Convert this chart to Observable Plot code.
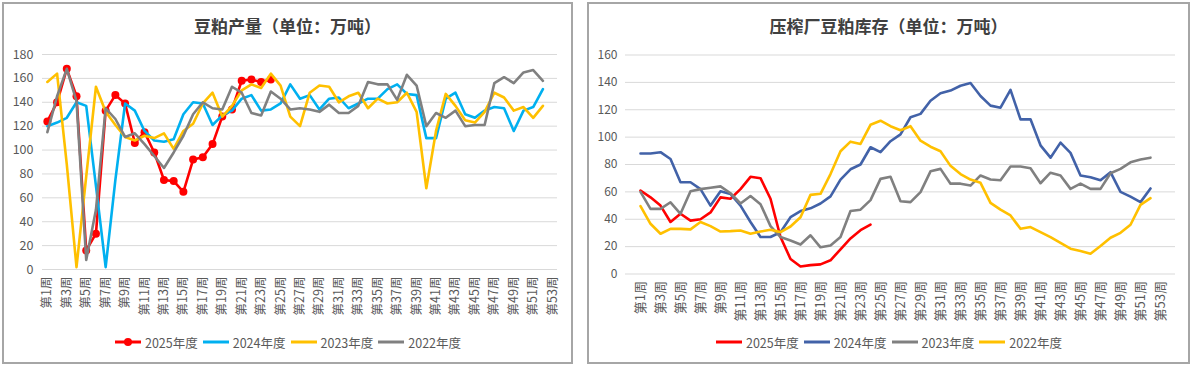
<!DOCTYPE html>
<html><head><meta charset="utf-8">
<script src="https://cdn.jsdelivr.net/npm/d3@7"></script>
<script src="https://cdn.jsdelivr.net/npm/@observablehq/plot@0.6"></script>
<style>
body{margin:0;background:#fff;font-family:"Noto Sans CJK SC","Noto Sans",sans-serif;}
#root{position:relative;width:1193px;height:366px;overflow:hidden;background:#fff;}
.panel{position:absolute;border:2px solid #a6a6a6;box-sizing:border-box;}
.title{position:absolute;font-weight:bold;font-size:17px;color:#404040;text-align:center;line-height:20px;}
.legend{position:absolute;display:flex;justify-content:center;align-items:center;font-size:12.5px;color:#595959;height:16px;}
.legend .item{display:flex;align-items:center;margin:0 2px;}
.legend svg{margin-right:3px;}
.plot{position:absolute;top:0;}
</style></head><body><div id="root"></div>
<script>
// ---------- data ----------
const weeks = d3.range(1, 54);
const weekTicks = weeks.filter(w => w % 2 === 1);
const prodTicks = [0, 20, 40, 60, 80, 100, 120, 140, 160, 180];
const stockTicks = [0, 20, 40, 60, 80, 100, 120, 140, 160];

const prodTitle = "豆粕产量（单位：万吨）";
const stockTitle = "压榨厂豆粕库存（单位：万吨）";
const prodSeriesNames = ["2025年度", "2024年度", "2023年度", "2022年度"];
const stockSeriesNames = ["2025年度", "2024年度", "2023年度", "2022年度"];

// 豆粕产量
const prod2025 = [124, 140, 168, 145, 16, 30, 133, 146, 139, 106, 115, 98, 75, 74, 65, 92, 94, 105, 128, 134, 158, 159, 157, 159];
const prod2024 = [120, 123, 127, 140, 137, 70, 2, 75, 139, 133, 116, 108, 107, 109, 130, 140, 139, 121, 129, 133, 143, 146, 133, 134, 139, 155,
  143, 146, 134, 143, 144, 135, 139, 143, 143, 151, 155, 147, 146, 110, 110, 143, 148, 130, 127, 133, 136, 135, 116, 133, 136, 151];
const prod2023 = [157, 164, 88, 2, 78, 153, 132, 121, 111, 108, 112, 110, 114, 101, 116, 122, 139, 148, 128, 137, 150, 155, 152, 164, 154, 128,
  120, 148, 154, 153, 140, 145, 148, 135, 143, 139, 140, 148, 132, 68, 116, 147, 137, 125, 123, 132, 148, 144, 133, 136, 127, 137];
const prod2022 = [115, 145, 168, 141, 8, 50, 135, 126, 111, 114, 105, 95, 85, 98, 112, 130, 140, 135, 134, 153, 148, 131, 129, 149, 143, 134,
  135, 134, 132, 138, 131, 131, 137, 157, 155, 155, 142, 163, 154, 120, 131, 127, 133, 120, 121, 121, 156, 161, 156, 165, 167, 158];

// 压榨厂豆粕库存
const stock2025 = [61, 56, 50, 38, 44, 39, 40, 45, 56, 55, 62, 71, 70, 55, 27, 11, 5.5, 6.5, 7, 10, 18, 26, 32, 36];
const stock2024 = [88, 88, 89, 84, 67, 67, 62, 50, 60.5, 58.5, 50, 38, 27, 27, 30.5, 41.5, 46, 48, 51.5, 56.7, 69, 76.5, 80, 92.6, 89, 97,
  102, 114.5, 117, 126.6, 132, 134, 137.5, 139.5, 130, 123, 121.5, 134.5, 113, 113, 94, 85, 96, 88.5, 72, 70.7, 68.5, 74.4, 60, 56.5, 52.5, 62.5];
const stock2023 = [60, 47.6, 47.6, 52.4, 44, 60.5, 62, 63, 64, 59, 51.5, 57, 51, 35, 27, 24.5, 21.5, 28.3, 19.5, 20.8, 27, 46, 47, 54, 69.5, 71,
  53.2, 52.5, 59.8, 75, 76.8, 66, 66, 64.6, 72, 69, 68.5, 78.5, 78.5, 77.3, 66.3, 74, 72, 62.2, 66, 62.2, 62.2, 73.6, 76.8, 81.6, 83.6, 85];
const stock2022 = [49.6, 36.7, 29.4, 33, 33, 32.6, 38, 35, 31, 31.3, 31.8, 29.4, 31, 32.3, 30.6, 34.7, 41.5, 57.8, 58.6, 73, 89.7, 96.7, 95, 109, 112, 108,
  105, 108, 97.4, 93, 89.7, 79, 73, 69, 66.6, 52, 47, 42.8, 33, 34.3, 30.6, 27, 22.8, 18.5, 16.8, 14.8, 20.4, 26.5, 30.1, 36, 50.5, 55.4];

const prodColors = ["#ff0000", "#00b0f0", "#ffc000", "#808080"];
const stockColors = ["#ff0000", "#4262a8", "#808080", "#ffc000"];

// ---------- layout ----------
const root = document.getElementById("root");
function add(tag, cls, style, text) {
  const el = document.createElement(tag);
  if (cls) el.className = cls;
  Object.assign(el.style, style);
  if (text) el.textContent = text;
  root.appendChild(el);
  return el;
}
add("div", "panel", {left: "2px", top: "2px", width: "571px", height: "362px"});
add("div", "panel", {left: "587px", top: "2px", width: "603px", height: "362px"});
add("div", "title", {left: "2px", width: "571px", top: "16px"}, prodTitle);
add("div", "title", {left: "587px", width: "603px", top: "16px"}, stockTitle);

const font = '"Noto Sans CJK SC","Noto Sans",sans-serif';

function chart(seriesList, colors, yTicks, yMax, opts, withDots) {
  const marks = [
    Plot.gridY(yTicks, {stroke: "#d9d9d9", strokeOpacity: 1, strokeWidth: 1}),
    Plot.axisY(yTicks, {tickSize: 0, tickPadding: opts.yPad, label: null, fill: "#595959"}),
    Plot.axisX(weekTicks, {tickSize: 0, tickPadding: 7, tickRotate: -90, label: null, fill: "#595959",
      tickFormat: d => `第${d}周`})
  ];
  seriesList.forEach((vals, k) => {
    marks.push(Plot.line(vals, {x: (d, i) => weeks[i], y: d => d, stroke: colors[k], strokeWidth: 2.6,
      strokeLinejoin: "round", strokeLinecap: "round"}));
    if (withDots && k === 0) {
      marks.push(Plot.dot(vals, {x: (d, i) => weeks[i], y: d => d, r: 4, fill: colors[k], stroke: "none"}));
    }
  });
  const svg = Plot.plot({
    width: opts.width, height: 320,
    marginLeft: opts.ml, marginRight: opts.mr, marginTop: opts.mt, marginBottom: 320 - opts.zeroY,
    x: {type: "point", domain: weeks, padding: 0.5},
    y: {domain: [0, yMax]},
    style: {fontFamily: font, color: "#595959", background: "transparent", overflow: "visible"},
    marks
  });
  svg.querySelectorAll('g[aria-label="y-axis tick label"]').forEach(g => g.style.fontSize = opts.yFont + "px");
  svg.querySelectorAll('g[aria-label="x-axis tick label"]').forEach(g => g.style.fontSize = opts.xFont + "px");
  return svg;
}

// draw order: first series at the bottom
const left = chart([prod2025, prod2024, prod2023, prod2022], prodColors, prodTicks, 180,
  {width: 580, ml: 42, mr: 23, mt: 54, zeroY: 269, yPad: 9, yFont: 12.5, xFont: 12.5}, true);
left.classList.add("plot"); left.style.left = "0px";
root.appendChild(left);

const right = chart([stock2025, stock2024, stock2023, stock2022], stockColors, stockTicks, 160,
  {width: 600, ml: 35, mr: 15, mt: 54.5, zeroY: 273.5, yPad: 8, yFont: 12, xFont: 13}, false);
right.classList.add("plot"); right.style.left = "590px";
root.appendChild(right);

function legend(names, colors, leftPx, widthPx, withDot) {
  const lg = add("div", "legend", {left: leftPx + "px", width: widthPx + "px", top: "334px"});
  names.forEach((n, k) => {
    const it = document.createElement("div");
    it.className = "item";
    const ns = "http://www.w3.org/2000/svg";
    const s = document.createElementNS(ns, "svg");
    s.setAttribute("width", 28); s.setAttribute("height", 10);
    const ln = document.createElementNS(ns, "line");
    ln.setAttribute("x1", 1); ln.setAttribute("x2", 27); ln.setAttribute("y1", 5); ln.setAttribute("y2", 5);
    ln.setAttribute("stroke", colors[k]); ln.setAttribute("stroke-width", 3);
    s.appendChild(ln);
    if (withDot && k === 0) {
      const c = document.createElementNS(ns, "circle");
      c.setAttribute("cx", 14); c.setAttribute("cy", 5); c.setAttribute("r", 4); c.setAttribute("fill", colors[k]);
      s.appendChild(c);
    }
    it.appendChild(s);
    const t = document.createElement("span");
    t.textContent = n;
    it.appendChild(t);
    lg.appendChild(it);
  });
}
legend(prodSeriesNames, prodColors, 2, 571, true);
legend(stockSeriesNames, stockColors, 587, 603, false);
</script>
</body></html>
